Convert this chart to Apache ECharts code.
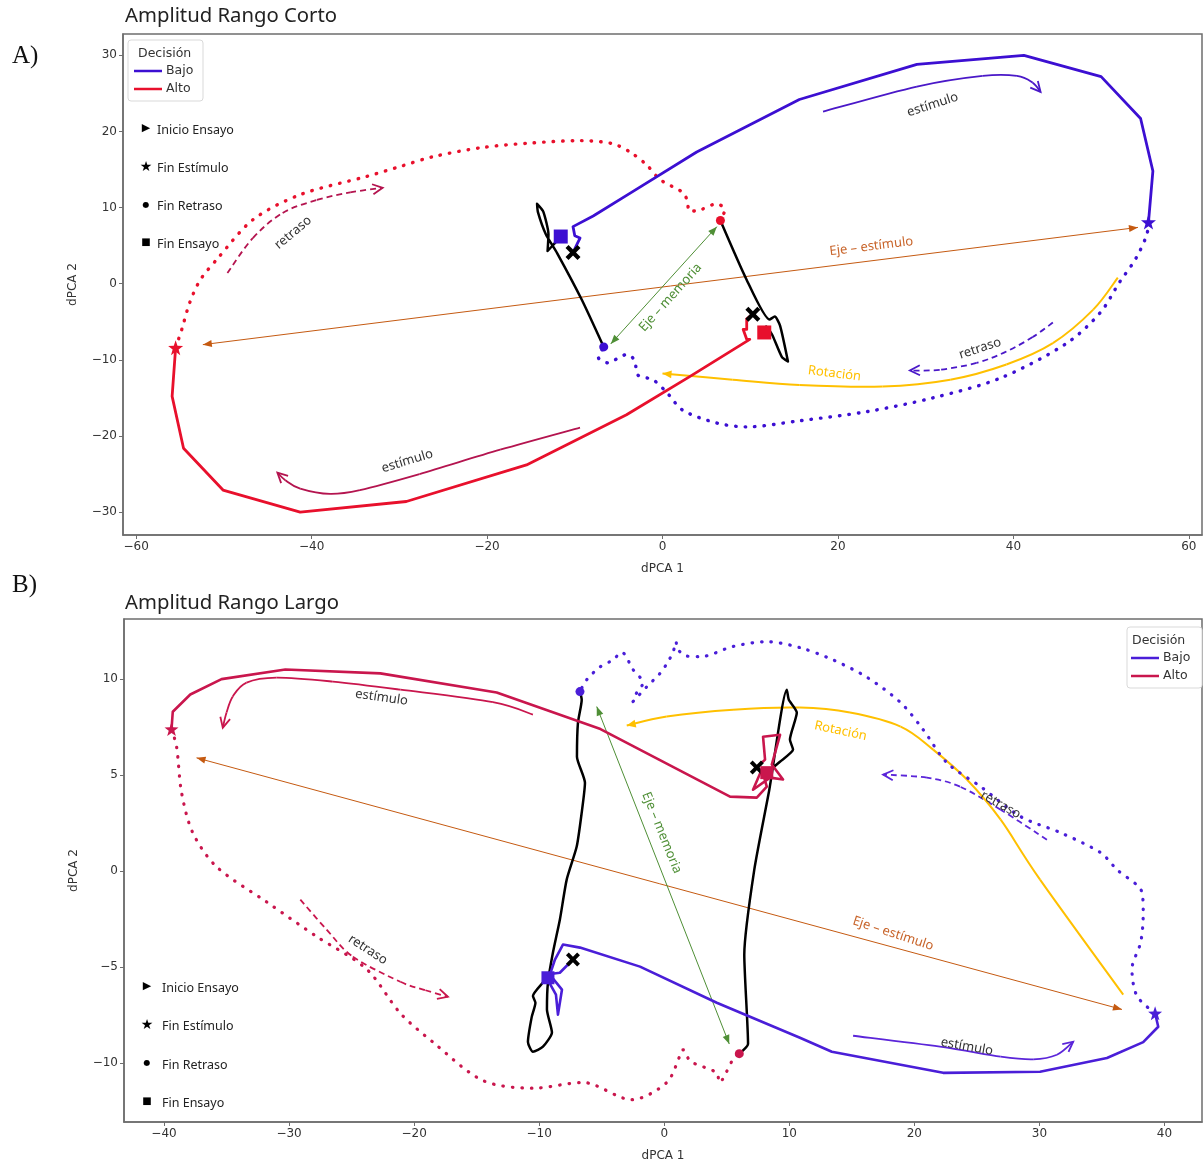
<!DOCTYPE html>
<html>
<head>
<meta charset="utf-8">
<script src="https://cdn.jsdelivr.net/npm/echarts@6/dist/echarts.min.js"></script>
<style>
  html, body { margin: 0; padding: 0; background: #ffffff; }
  #chart { width: 1204px; height: 1165px; }
</style>
</head>
<body>
<div id="chart"></div>
<script>
// ---------- Panel A: Amplitud Rango Corto (dPCA 1, dPCA 2) ----------
const aBajoEstimulo = [[-10.2,4.1],[-9.7,5.3],[-9.4,6.0],[-10.0,6.3],[-10.2,7.5],[-7.9,8.9],[-3.4,12.1],[3.9,17.3],[15.6,24.2],[29.0,28.8],[41.2,30.0],[50.0,27.2],[54.5,21.7],[55.9,14.8],[55.4,8.1]];
const aBajoRetraso = [[55.4,8.1],[55.2,6.4],[53.9,3.2],[52.1,0.2],[49.9,-3.8],[46.1,-7.8],[38.5,-12.4],[30.8,-15.0],[23.3,-16.8],[15.6,-18.0],[9.6,-18.8],[6.2,-18.3],[2.3,-16.6],[0.5,-14.3],[-1.1,-12.6],[-2.8,-12.0],[-3.2,-10.0],[-4.1,-9.3],[-5.1,-9.8],[-6.2,-10.4],[-7.3,-9.7],[-6.7,-8.3]];
const aBajoRespuesta = [[-6.7,-8.3],[-9.2,-2.1],[-12.0,4.0],[-13.3,6.5],[-14.2,9.4],[-14.3,10.5],[-13.6,9.5],[-13.0,6.5],[-13.1,4.3],[-12.3,5.3],[-11.6,6.2]];
const aAltoEstimulo = [[10.3,-4.0],[9.6,-4.6],[9.6,-6.0],[9.2,-6.0],[9.6,-7.3],[9.95,-7.3],[3.1,-12.2],[-4.1,-17.2],[-15.5,-23.8],[-29.2,-28.6],[-41.3,-30.0],[-50.1,-27.1],[-54.6,-21.6],[-55.9,-14.8],[-55.5,-8.4]];
const aAltoRetraso = [[-55.5,-8.4],[-54.8,-6.0],[-53.9,-2.5],[-52.7,0.5],[-50.8,3.2],[-46.7,8.4],[-41.3,11.7],[-33.7,14.1],[-29.9,15.4],[-26.1,16.7],[-20.5,17.9],[-14.8,18.5],[-9.4,18.8],[-5.7,18.4],[-3.7,17.3],[-1.8,15.6],[-0.3,13.7],[2.3,12.0],[2.8,11.0],[3.1,9.5],[4.3,9.7],[6.2,10.5],[7.1,9.7],[6.6,8.3]];
const aAltoRespuesta = [[6.6,8.3],[9.6,0.5],[12.2,-4.7],[12.8,-4.3],[13.4,-5.5],[14.3,-10.2],[13.6,-9.6],[12.5,-6.7],[11.8,-5.6],[11.6,-6.4]];

// Flechas y ejes del panel A
const aFlechaEstimuloBajo = [[18.3,22.6],[29.0,25.9],[36.5,27.3],[40.4,27.3],[42.2,26.4],[43.1,25.2]];
const aFlechaEstimuloAlto = [[-9.4,-18.9],[-18.5,-21.8],[-27.7,-25.0],[-34.5,-27.1],[-37.9,-27.6],[-41.3,-26.9],[-43.0,-25.8],[-43.9,-24.8]];
const aFlechaRetrasoAlto = [[-49.6,1.4],[-46.7,6.0],[-43.3,9.3],[-39.4,11.0],[-35.6,12.0],[-31.9,12.6]];
const aFlechaRetrasoBajo = [[44.5,-5.1],[42.2,-7.0],[39.2,-8.9],[35.8,-10.4],[31.6,-11.3],[28.2,-11.4]];
const aFlechaRotacion = [[51.9,0.8],[49.1,-3.4],[44.5,-7.8],[39.2,-10.6],[32.8,-12.6],[25.1,-13.5],[15.6,-13.3],[8.0,-12.6],[0.0,-11.8]];
const aEjeEstimulo = [[-52.4,-8.0],[54.2,7.4]];
const aEjeMemoria = [[-5.9,-7.9],[6.2,7.5]];
const aEtiquetasPos = [[30.8,23.5],[-29.1,-23.3],[-42.1,6.7],[36.2,-8.5],[19.6,-11.8],[23.8,4.9],[0.9,-1.8]];

// ---------- Panel B: Amplitud Rango Largo ----------
const bBajoEstimulo = [[-7.3,-4.6],[-8.35,-5.29],[-9.55,-5.39],[-8.66,-6.43],[-8.5,-7.47],[-8.18,-6.17],[-9.14,-5.39],[-8.74,-4.6],[-8.1,-3.82],[-6.74,-3.98],[-1.94,-4.97],[4.2,-6.85],[10.85,-8.67],[13.4,-9.4],[22.3,-10.5],[30.05,-10.44],[35.4,-9.73],[38.3,-8.9],[39.5,-8.1],[39.25,-7.4]];
const bBajoRetraso = [[39.25,-7.4],[37.8,-6.5],[37.4,-5.1],[38.1,-3.7],[38.3,-2.2],[38.2,-1.1],[36.2,0.08],[34.9,0.96],[31.7,2.0],[28.5,2.84],[25.3,4.4],[22.6,5.65],[20.7,7.37],[18.9,8.78],[16.2,10.1],[13.5,11.0],[10.85,11.64],[8.2,11.95],[5.5,11.7],[2.9,11.17],[1.8,11.2],[1.0,11.64],[0.95,11.95],[0.7,11.4],[0.2,10.8],[-0.34,10.3],[-1.4,9.6],[-2.5,8.83],[-2.2,9.3],[-1.7,9.8],[-2.5,10.5],[-3.4,11.4],[-4.1,11.0],[-5.1,10.65],[-6.2,9.97],[-6.74,9.35]];
const bBajoRespuesta = [[-6.74,9.35],[-6.6,8.93],[-6.9,7.73],[-6.98,5.96],[-6.34,4.6],[-6.6,3.05],[-7.0,1.28],[-7.8,-0.44],[-8.34,-2.5],[-8.9,-4.24],[-9.3,-5.8],[-9.38,-7.2],[-8.98,-8.4],[-9.7,-9.14],[-10.5,-9.4],[-10.9,-8.9],[-10.6,-7.6],[-10.3,-6.85],[-10.5,-6.5],[-9.7,-5.8],[-9.3,-5.55]];
const bAltoEstimulo = [[7.4,5.4],[8.06,5.81],[7.9,7.0],[9.26,7.1],[8.6,5.55],[9.5,4.77],[8.46,4.87],[7.1,4.24],[7.8,5.29],[8.2,4.4],[7.4,3.83],[5.26,3.88],[-5.1,7.4],[-13.4,9.3],[-22.7,10.3],[-30.3,10.5],[-35.4,10.0],[-37.9,9.2],[-39.3,8.3],[-39.4,7.4]];
const bAltoRetraso = [[-39.4,7.4],[-39.0,6.5],[-38.6,4.1],[-37.7,2.0],[-35.8,0.23],[-31.8,-1.6],[-27.8,-3.4],[-23.8,-5.1],[-21.1,-7.4],[-18.5,-8.9],[-14.5,-10.9],[-10.5,-11.3],[-6.5,-11.0],[-2.6,-11.9],[0.2,-11.0],[1.3,-9.55],[1.5,-9.3],[2.1,-9.9],[4.2,-10.5],[4.4,-11.0],[5.5,-9.8],[6.0,-9.5]];
const bAltoRespuesta = [[6.0,-9.5],[6.7,-9.0],[6.4,-4.35],[7.2,0.08],[8.4,4.24],[9.8,9.45],[9.96,8.93],[10.6,8.26],[10.05,6.85],[10.3,6.33],[9.25,5.7],[8.2,5.13]];

// Flechas y ejes del panel B
const bFlechaEstimuloBajo = [[15.1,-8.57],[22.05,-9.14],[26.9,-9.66],[29.5,-9.8],[31.4,-9.56],[32.7,-8.88]];
const bFlechaEstimuloAlto = [[-10.5,8.15],[-13.7,8.8],[-21.1,9.45],[-26.5,9.87],[-31.0,10.08],[-33.4,9.82],[-34.5,9.1],[-35.0,8.26],[-35.3,7.47]];
const bFlechaRetrasoAlto = [[-29.1,-1.48],[-27.0,-3.04],[-24.9,-4.45],[-21.1,-5.76],[-19.1,-6.2],[-17.3,-6.54]];
const bFlechaRetrasoBajo = [[30.6,1.64],[26.9,3.2],[23.65,4.4],[21.0,4.87],[17.5,5.03]];
const bFlechaRotacion = [[36.7,-6.43],[30.05,-0.44],[26.9,2.68],[24.2,4.77],[21.5,6.33],[18.9,7.53],[14.85,8.26],[10.85,8.52],[5.5,8.41],[0.2,8.05],[-3.0,7.58]];
const bEjeEstimulo = [[-37.4,5.9],[36.6,-7.2]];
const bEjeMemoria = [[-5.4,8.57],[5.2,-9.0]];
const bEtiquetasPos = [[24.2,-9.14],[-22.6,9.04],[-23.7,-4.09],[26.9,3.46],[14.1,7.3],[18.3,-3.25],[-0.2,2.0]];

// Texts and tick values
const etiquetas = ['estímulo', 'estímulo', 'retraso', 'retraso', 'Rotación', 'Eje – estímulo', 'Eje – memoria'];
const decision = ['Bajo', 'Alto'];
const marcadores = ['Inicio Ensayo', 'Fin Estímulo', 'Fin Retraso', 'Fin Ensayo'];
const titulos = ['Amplitud Rango Corto', 'Amplitud Rango Largo'];
const aTicksX = [-60, -40, -20, 0, 20, 40, 60];
const aTicksY = [-30, -20, -10, 0, 10, 20, 30];
const bTicksX = [-40, -30, -20, -10, 0, 10, 20, 30, 40];
const bTicksY = [-10, -5, 0, 5, 10];

// ---------- styling ----------
const FONT = '"Noto Sans", "DejaVu Sans", sans-serif';
const AMARILLO = '#ffc000', NARANJA = '#c55a11', VERDE = '#4f8f36', TEXTO = '#333333', MARCO = '#6e6e6e';
const STAR = 'path://M0,-10 L2.35,-3.24 L9.51,-3.09 L3.8,1.24 L5.88,8.09 L0,4 L-5.88,8.09 L-3.8,1.24 L-9.51,-3.09 L-2.35,-3.24 Z';
const CRUZ = 'path://M-10,-6 L-6,-10 L0,-4 L6,-10 L10,-6 L4,0 L10,6 L6,10 L0,4 L-6,10 L-10,6 L-4,0 Z';
const menos = v => (v < 0 ? '\u2212' + Math.abs(v) : String(v));

function ejeX(gi, min, max, ticks) {
  return {
    type: 'value', gridIndex: gi, min, max, name: 'dPCA 1', nameLocation: 'middle', nameGap: 28,
    nameTextStyle: { fontFamily: 'DejaVu Sans', fontSize: 12, color: TEXTO },
    axisLine: { show: true, onZero: false, lineStyle: { color: MARCO, width: 1.5 } },
    axisTick: { show: true, length: 4, customValues: ticks, lineStyle: { color: MARCO } },
    axisLabel: { customValues: ticks, formatter: menos, fontFamily: 'DejaVu Sans', fontSize: 12, color: TEXTO, margin: 6 },
    splitLine: { show: false }
  };
}
function ejeY(gi, min, max, ticks) {
  return {
    type: 'value', gridIndex: gi, min, max, name: 'dPCA 2', nameLocation: 'middle', nameGap: 44,
    nameTextStyle: { fontFamily: 'DejaVu Sans', fontSize: 12, color: TEXTO },
    axisLine: { show: true, onZero: false, lineStyle: { color: MARCO, width: 1.5 } },
    axisTick: { show: true, length: 4, customValues: ticks, lineStyle: { color: MARCO } },
    axisLabel: { customValues: ticks, formatter: menos, fontFamily: 'DejaVu Sans', fontSize: 12, color: TEXTO, margin: 6 },
    splitLine: { show: false }
  };
}

// Trajectory polyline (solid, dotted or dashed)
function linea(gi, data, color, width, type, smooth, z) {
  const dotted = type === 'dotted';
  return {
    type: 'line', xAxisIndex: gi, yAxisIndex: gi, data, symbol: 'none', smooth: smooth || false,
    silent: true, animation: false, z: z || 3,
    lineStyle: {
      color, width,
      type: dotted ? [0.5, 9] : (type === 'dashed' ? [6, 4] : 'solid'),
      cap: dotted ? 'round' : 'butt', join: 'round'
    }
  };
}

// Smooth annotation curve: one Catmull-Rom segment per data point
function curva(gi, pts, color, width, dash) {
  return {
    type: 'custom', xAxisIndex: gi, yAxisIndex: gi, silent: true, animation: false, z: 2,
    data: pts.map(p => [p[0], p[1]]),
    renderItem(params, api) {
      const i = params.dataIndex, n = pts.length;
      if (i >= n - 1) return null;
      const P = k => api.coord(pts[Math.max(0, Math.min(n - 1, k))]);
      const p0 = P(i - 1), p1 = api.coord([api.value(0), api.value(1)]), p2 = P(i + 1), p3 = P(i + 2);
      const t = 1 / 6;
      return {
        type: 'bezierCurve',
        shape: {
          x1: p1[0], y1: p1[1], x2: p2[0], y2: p2[1],
          cpx1: p1[0] + (p2[0] - p0[0]) * t, cpy1: p1[1] + (p2[1] - p0[1]) * t,
          cpx2: p2[0] - (p3[0] - p1[0]) * t, cpy2: p2[1] - (p3[1] - p1[1]) * t
        },
        style: { stroke: color, lineWidth: width, fill: null, lineDash: dash || null, lineCap: 'butt' }
      };
    }
  };
}

function cabezas(gi, items) {
  return {
    type: 'custom', xAxisIndex: gi, yAxisIndex: gi, silent: true, animation: false, z: 5,
    data: items.map(h => [h.desde[0], h.desde[1], h.hasta[0], h.hasta[1]]),
    renderItem(params, api) {
      const h = items[params.dataIndex];
      const a = api.coord([api.value(0), api.value(1)]);
      const b = api.coord([api.value(2), api.value(3)]);
      const ang = Math.atan2(b[1] - a[1], b[0] - a[0]);
      const cx = Math.cos(ang), sy = Math.sin(ang);
      const bx = b[0] - h.largo * cx, by = b[1] - h.largo * sy;
      const p1 = [bx - h.ancho * sy, by + h.ancho * cx];
      const p2 = [bx + h.ancho * sy, by - h.ancho * cx];
      if (h.relleno) return { type: 'polygon', shape: { points: [b, p1, p2] }, style: { fill: h.color } };
      return { type: 'polyline', shape: { points: [p1, b, p2] }, style: { stroke: h.color, lineWidth: h.grosor || 1.8, fill: null } };
    }
  };
}

function textos(gi, pos, estilos) {
  return {
    type: 'custom', xAxisIndex: gi, yAxisIndex: gi, silent: true, animation: false, z: 7,
    data: pos.map(p => [p[0], p[1]]),
    renderItem(params, api) {
      const e = estilos[params.dataIndex];
      const p = api.coord([api.value(0), api.value(1)]);
      return {
        type: 'text', x: p[0], y: p[1], rotation: e.rot * Math.PI / 180,
        style: { text: etiquetas[params.dataIndex], fill: e.color, font: '13px ' + FONT, align: 'center', verticalAlign: 'middle' }
      };
    }
  };
}

function marcas(gi, d, c, s) {
  const punto = (p, color) => ({ value: p, itemStyle: { color, opacity: 1 } });
  const base = { type: 'scatter', xAxisIndex: gi, yAxisIndex: gi, silent: true, animation: false, z: 8, itemStyle: { opacity: 1 } };
  const fin = arr => arr[arr.length - 1];
  return [
    Object.assign({}, base, { symbol: CRUZ, symbolSize: s.cruz, data: [punto(d.bajoEst[0], '#000'), punto(d.altoEst[0], '#000')] }),
    Object.assign({}, base, { symbol: STAR, symbolSize: s.star, data: [punto(fin(d.bajoEst), c.bajo), punto(fin(d.altoEst), c.alto)] }),
    Object.assign({}, base, { symbol: 'circle', symbolSize: s.dot, data: [punto(fin(d.bajoRet), c.bajo), punto(fin(d.altoRet), c.alto)] }),
    Object.assign({}, base, { symbol: 'rect', symbolSize: s.sq, data: [punto(fin(d.bajoResp), c.bajo), punto(fin(d.altoResp), c.alto)] })
  ];
}

function panel(gi, d, c, s, rots) {
  const head = (arr, color, relleno, largo, ancho) =>
    ({ desde: arr[arr.length - 2], hasta: arr[arr.length - 1], color, relleno, largo, ancho });
  const series = [
    // axes in the state space
    linea(gi, d.ejeEst, NARANJA, 1, 'solid', false, 1),
    linea(gi, d.ejeMem, VERDE, 1, 'solid', false, 1),
    // annotation arrows
    curva(gi, d.fEstB, c.fBajo, 1.8),
    curva(gi, d.fEstA, c.fAlto, 1.8),
    curva(gi, d.fRetA, c.fAlto, 1.8, [6, 4]),
    curva(gi, d.fRetB, c.fBajo, 1.8, [6, 4]),
    curva(gi, d.fRot, AMARILLO, 2),
    // trajectories
    linea(gi, d.bajoRet, c.bajo, s.dotW, 'dotted', 0.3, 3),
    linea(gi, d.altoRet, c.alto, s.dotW, 'dotted', 0.3, 3),
    linea(gi, d.bajoResp, '#000000', 2.5, 'solid', 0.2, 4),
    linea(gi, d.altoResp, '#000000', 2.5, 'solid', 0.2, 4),
    linea(gi, d.bajoEst, c.bajo, s.lineW, 'solid', false, 4),
    linea(gi, d.altoEst, c.alto, s.lineW, 'solid', false, 4),
    cabezas(gi, [
      head(d.fEstB, c.fBajo, false, 10, 5),
      head(d.fEstA, c.fAlto, false, 10, 5),
      head(d.fRetA, c.fAlto, false, 10, 5),
      head(d.fRetB, c.fBajo, false, 10, 5),
      head(d.fRot, AMARILLO, true, 9, 4),
      { desde: d.ejeEst[0], hasta: d.ejeEst[1], color: NARANJA, relleno: true, largo: 9, ancho: 3.5 },
      { desde: d.ejeEst[1], hasta: d.ejeEst[0], color: NARANJA, relleno: true, largo: 9, ancho: 3.5 },
      { desde: d.ejeMem[0], hasta: d.ejeMem[1], color: VERDE, relleno: true, largo: 9, ancho: 3.5 },
      { desde: d.ejeMem[1], hasta: d.ejeMem[0], color: VERDE, relleno: true, largo: 9, ancho: 3.5 }
    ]),
    textos(gi, d.pos, [
      { rot: rots[0], color: TEXTO }, { rot: rots[1], color: TEXTO },
      { rot: rots[2], color: TEXTO }, { rot: rots[3], color: TEXTO },
      { rot: rots[4], color: AMARILLO }, { rot: rots[5], color: '#c8642a' }, { rot: rots[6], color: VERDE }
    ])
  ];
  return series.concat(marcas(gi, d, c, s));
}

const colA = { bajo: '#3c0fd2', alto: '#e8102c', fBajo: '#4a18c8', fAlto: '#b4144f' };
const colB = { bajo: '#4a1ed8', alto: '#c9164d', fBajo: '#5b25d9', fAlto: '#c9164d' };

const serieA = panel(0, {
  bajoEst: aBajoEstimulo, bajoRet: aBajoRetraso, bajoResp: aBajoRespuesta,
  altoEst: aAltoEstimulo, altoRet: aAltoRetraso, altoResp: aAltoRespuesta,
  fEstB: aFlechaEstimuloBajo, fEstA: aFlechaEstimuloAlto, fRetA: aFlechaRetrasoAlto, fRetB: aFlechaRetrasoBajo,
  fRot: aFlechaRotacion, ejeEst: aEjeEstimulo, ejeMem: aEjeMemoria, pos: aEtiquetasPos
}, colA, { cruz: 15, star: 15, dot: 9, sq: 14, lineW: 2.8, dotW: 3.4 }, [18, 17, 40, 18, -7, 7, 48]);

const serieB = panel(1, {
  bajoEst: bBajoEstimulo, bajoRet: bBajoRetraso, bajoResp: bBajoRespuesta,
  altoEst: bAltoEstimulo, altoRet: bAltoRetraso, altoResp: bAltoRespuesta,
  fEstB: bFlechaEstimuloBajo, fEstA: bFlechaEstimuloAlto, fRetA: bFlechaRetrasoAlto, fRetB: bFlechaRetrasoBajo,
  fRot: bFlechaRotacion, ejeEst: bEjeEstimulo, ejeMem: bEjeMemoria, pos: bEtiquetasPos
}, colB, { cruz: 14, star: 14, dot: 9, sq: 13, lineW: 2.6, dotW: 3.2 }, [-10, -8, -33, -29, -12, -18, -68]);

// ---------- legends and titles ----------
function leyendaDecision(x, y, c, pad) {
  const f = '12.5px "DejaVu Sans"';
  return {
    type: 'group', x, y, z: 20, children: [
      { type: 'rect', shape: { x: 0, y: 0, width: 75, height: 61, r: 3 }, style: { fill: '#ffffff', stroke: '#d9d9d9', lineWidth: 1 } },
      { type: 'text', x: pad.titulo, y: 14, style: { text: 'Decisión', font: f, fill: TEXTO, verticalAlign: 'middle' } },
      { type: 'line', shape: { x1: pad.linea, y1: 31, x2: pad.linea + 28, y2: 31 }, style: { stroke: c.bajo, lineWidth: 2.5 } },
      { type: 'text', x: pad.linea + 32, y: 31, style: { text: decision[0], font: f, fill: TEXTO, verticalAlign: 'middle' } },
      { type: 'line', shape: { x1: pad.linea, y1: 49, x2: pad.linea + 28, y2: 49 }, style: { stroke: c.alto, lineWidth: 2.5 } },
      { type: 'text', x: pad.linea + 32, y: 49, style: { text: decision[1], font: f, fill: TEXTO, verticalAlign: 'middle' } }
    ]
  };
}
function leyendaMarcas(x, y, paso, xt) {
  const sim = ['▶', '★', '●', '■'];
  const tam = [11, 14, 8, 10];
  const children = [];
  sim.forEach((s, i) => {
    children.push({ type: 'text', x: 0, y: i * paso + (i === 1 ? 1 : 0), style: { text: s, font: tam[i] + 'px "DejaVu Sans"', fill: '#000', align: 'center', verticalAlign: 'middle' } });
    children.push({ type: 'text', x: xt, y: i * paso + 2, style: { text: marcadores[i], font: '12.5px ' + FONT, fill: '#222', verticalAlign: 'middle' } });
  });
  return { type: 'group', x, y, z: 20, children };
}

const option = {
  backgroundColor: '#ffffff',
  animation: false,
  grid: [
    { left: 123, right: 2, top: 34, height: 501, show: true, borderColor: MARCO, borderWidth: 1.5, containLabel: false },
    { left: 124, right: 2, top: 619, height: 503, show: true, borderColor: MARCO, borderWidth: 1.5, containLabel: false }
  ],
  xAxis: [ejeX(0, -61.5, 61.5, aTicksX), ejeX(1, -43.2, 43.0, bTicksX)],
  yAxis: [ejeY(0, -33.0, 32.8, aTicksY), ejeY(1, -13.06, 13.13, bTicksY)],
  series: serieA.concat(serieB),
  graphic: [
    { type: 'text', x: 12, y: 56, style: { text: 'A)', font: '25px "Liberation Serif", "DejaVu Serif", serif', fill: '#111', verticalAlign: 'middle' } },
    { type: 'text', x: 12, y: 585, style: { text: 'B)', font: '25px "Liberation Serif", "DejaVu Serif", serif', fill: '#111', verticalAlign: 'middle' } },
    { type: 'text', x: 125, y: 16, style: { text: titulos[0], font: '20.3px ' + FONT, fill: '#222', verticalAlign: 'middle' } },
    { type: 'text', x: 125, y: 603, style: { text: titulos[1], font: '20.3px ' + FONT, fill: '#222', verticalAlign: 'middle' } },
    leyendaDecision(128, 40, colA, { titulo: 10, linea: 6 }),
    leyendaDecision(1127, 627, colB, { titulo: 5, linea: 4 }),
    leyendaMarcas(146, 128, 38.3, 11),
    leyendaMarcas(147, 986, 38.5, 15)
  ]
};

const chart = echarts.init(document.getElementById('chart'), null, { renderer: 'canvas' });
chart.setOption(option);
</script>
</body>
</html>
